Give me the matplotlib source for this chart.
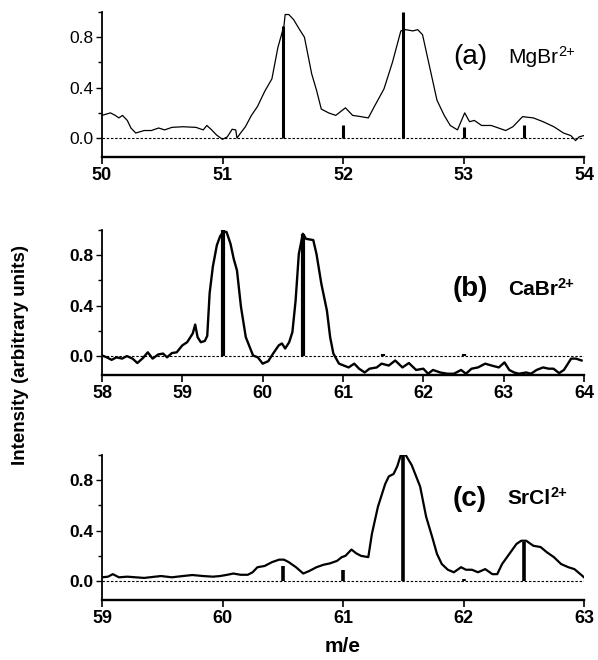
import matplotlib
matplotlib.use("Agg")
import matplotlib.pyplot as plt
import matplotlib.transforms as mtransforms
from matplotlib.ticker import MultipleLocator

plt.rcParams['font.family'] = ['Liberation Sans', 'DejaVu Sans']

# ---------------- data ----------------
# (a) MgBr2+
a_x = [50.00, 50.07, 50.11, 50.14, 50.17, 50.21, 50.24, 50.28, 50.35, 50.41, 50.47, 50.52,
       50.58, 50.67, 50.78, 50.84, 50.87, 50.91, 50.95, 51.00, 51.04, 51.08, 51.11, 51.12,
       51.15, 51.19, 51.24, 51.29, 51.35, 51.41, 51.46, 51.51, 51.52, 51.55, 51.59, 51.64,
       51.68, 51.74, 51.78, 51.82, 51.88, 51.94, 51.98, 52.02, 52.08, 52.15, 52.21, 52.26,
       52.34, 52.41, 52.48, 52.52, 52.58, 52.62, 52.66, 52.72, 52.78, 52.84, 52.89, 52.95,
       53.01, 53.05, 53.09, 53.15, 53.23, 53.29, 53.35, 53.41, 53.49, 53.58, 53.66, 53.75,
       53.83, 53.89, 53.93, 53.96, 54.00]
a_y = [0.18, 0.20, 0.18, 0.16, 0.18, 0.14, 0.08, 0.04, 0.06, 0.06, 0.08, 0.065,
       0.085, 0.09, 0.085, 0.065, 0.10, 0.065, 0.025, -0.01, 0.01, 0.07, 0.065, 0.0,
       0.04, 0.09, 0.18, 0.25, 0.37, 0.47, 0.72, 0.89, 0.98, 0.98, 0.94, 0.86,
       0.80, 0.51, 0.38, 0.23, 0.20, 0.18, 0.21, 0.24, 0.18, 0.17, 0.16, 0.25,
       0.39, 0.60, 0.85, 0.86, 0.85, 0.86, 0.82, 0.56, 0.30, 0.18, 0.10, 0.065,
       0.20, 0.13, 0.14, 0.10, 0.10, 0.08, 0.06, 0.09, 0.17, 0.16, 0.13, 0.09,
       0.04, 0.02, -0.02, 0.01, 0.02]
a_stick_x = [51.5, 52.0, 52.5, 53.0, 53.5]
a_stick_y = [0.89, 0.10, 1.00, 0.09, 0.10]

# (b) CaBr2+
b_x = [58.00, 58.06, 58.12, 58.18, 58.25, 58.31, 58.38, 58.44, 58.51, 58.57, 58.63, 58.70,
       58.76, 58.81, 58.87, 58.93, 59.00, 59.06, 59.13, 59.16, 59.19, 59.23, 59.28, 59.31,
       59.34, 59.38, 59.43, 59.47, 59.51, 59.55, 59.60, 59.64, 59.68, 59.73, 59.79, 59.88,
       59.94, 60.00, 60.07, 60.13, 60.20, 60.24, 60.28, 60.33, 60.37, 60.41, 60.45, 60.50,
       60.54, 60.63, 60.67, 60.73, 60.80, 60.84, 60.88, 60.95, 61.01, 61.07, 61.14, 61.20,
       61.27, 61.33, 61.42, 61.48, 61.57, 61.65, 61.74, 61.82, 61.91, 62.00, 62.06, 62.12,
       62.21, 62.30, 62.38, 62.47, 62.53, 62.60, 62.68, 62.77, 62.85, 62.94, 63.01, 63.07,
       63.13, 63.19, 63.28, 63.34, 63.41, 63.49, 63.56, 63.62, 63.69, 63.75, 63.84, 63.90,
       63.97]
b_y = [0.005, -0.01, -0.03, -0.01, -0.02, 0.0, -0.02, -0.055, -0.015, 0.03, -0.02, 0.013,
       0.02, -0.01, 0.024, 0.03, 0.085, 0.11, 0.18, 0.25, 0.15, 0.11, 0.12, 0.16,
       0.50, 0.71, 0.88, 0.95, 0.985, 0.985, 0.89, 0.77, 0.68, 0.39, 0.15, 0.005,
       -0.01, -0.06, -0.04, 0.02, 0.085, 0.10, 0.06, 0.11, 0.19, 0.44, 0.81, 0.97,
       0.93, 0.92, 0.81, 0.575, 0.36, 0.15, 0.02, -0.06, -0.075, -0.09, -0.06, -0.10,
       -0.13, -0.10, -0.09, -0.06, -0.075, -0.035, -0.09, -0.055, -0.11, -0.10, -0.14, -0.11,
       -0.13, -0.14, -0.14, -0.11, -0.14, -0.10, -0.09, -0.06, -0.075, -0.09, -0.05, -0.11,
       -0.13, -0.14, -0.13, -0.14, -0.11, -0.09, -0.10, -0.10, -0.135, -0.11, -0.02, -0.02,
       -0.035]
b_stick_x = [59.5, 60.5, 61.5, 62.5]
b_stick_y = [1.00, 0.97, 0.02, 0.02]

# (c) SrCl2+
c_x = [59.00, 59.05, 59.09, 59.14, 59.21, 59.28, 59.35, 59.44, 59.49, 59.58, 59.67, 59.75,
       59.84, 59.92, 59.98, 60.04, 60.09, 60.15, 60.21, 60.25, 60.29, 60.35, 60.41, 60.47,
       60.51, 60.55, 60.61, 60.67, 60.72, 60.78, 60.84, 60.89, 60.95, 60.99, 61.02, 61.07,
       61.11, 61.15, 61.21, 61.24, 61.29, 61.35, 61.38, 61.42, 61.45, 61.48, 61.52, 61.57,
       61.64, 61.69, 61.74, 61.78, 61.82, 61.87, 61.92, 61.98, 62.02, 62.07, 62.12, 62.18,
       62.24, 62.28, 62.32, 62.38, 62.44, 62.48, 62.52, 62.58, 62.64, 62.69, 62.75, 62.81,
       62.87, 62.92, 62.97, 63.00]
c_y = [0.03, 0.035, 0.055, 0.03, 0.035, 0.03, 0.025, 0.035, 0.04, 0.03, 0.04, 0.048,
       0.04, 0.035, 0.04, 0.05, 0.06, 0.05, 0.05, 0.07, 0.11, 0.12, 0.15, 0.17,
       0.17, 0.15, 0.11, 0.06, 0.08, 0.11, 0.13, 0.14, 0.16, 0.19, 0.20, 0.25,
       0.22, 0.20, 0.19, 0.375, 0.59, 0.77, 0.83, 0.85, 0.91, 1.00, 1.00, 0.92,
       0.75, 0.51, 0.35, 0.215, 0.135, 0.09, 0.07, 0.11, 0.09, 0.09, 0.07, 0.095,
       0.055, 0.055, 0.135, 0.215, 0.295, 0.32, 0.32, 0.28, 0.27, 0.23, 0.19, 0.135,
       0.11, 0.095, 0.055, 0.03]
c_stick_x = [60.5, 61.0, 61.5, 62.0, 62.5]
c_stick_y = [0.12, 0.09, 1.00, 0.02, 0.31]

panels = [
    dict(x=a_x, y=a_y, sx=a_stick_x, sy=a_stick_y, xlim=(50, 54), xticks=[50, 51, 52, 53, 54],
         tag='(a)', ion='MgBr', charge='2+', bold=False, tag_y=0.64, lw=0.9, slw=2.2),
    dict(x=b_x, y=b_y, sx=b_stick_x, sy=b_stick_y, xlim=(58, 64), xticks=[58, 59, 60, 61, 62, 63, 64],
         tag='(b)', ion='CaBr', charge='2+', bold=True, tag_y=0.53, lw=1.7, slw=3.0),
    dict(x=c_x, y=c_y, sx=c_stick_x, sy=c_stick_y, xlim=(59, 63), xticks=[59, 60, 61, 62, 63],
         tag='(c)', ion='SrCl', charge='2+', bold=True, tag_y=0.655, lw=1.6, slw=2.6),
]
yticks = [0.0, 0.4, 0.8]
ytick_labels = ['0.0', '0.4', '0.8']

fig = plt.figure(figsize=(5.98, 6.6), dpi=100)
W, H = 598, 660
left, right = 102, 584
tops_bottoms = [(12, 157), (230, 375), (455, 600)]

for p, (top, bot) in zip(panels, tops_bottoms):
    ax = fig.add_axes([left / W, (H - bot) / H, (right - left) / W, (bot - top) / H])
    ax.plot(p['x'], p['y'], color='black', lw=p['lw'], zorder=3)
    ax.vlines(p['sx'], 0, p['sy'], color='black', lw=p['slw'], zorder=4)
    ax.axhline(0, color='black', lw=0.8, ls=(0, (2.2, 1.6)), zorder=2)
    ax.set_xlim(*p['xlim'])
    ax.set_ylim(-0.15, 1.0)
    ax.spines['top'].set_visible(False)
    ax.spines['right'].set_visible(False)
    ax.spines['left'].set_linewidth(1.3)
    ax.spines['bottom'].set_linewidth(1.7)
    ax.set_yticks(yticks)
    wy = 'bold' if p['bold'] else 'normal'
    ax.set_yticklabels(ytick_labels, fontsize=12.5, fontweight=wy)
    ax.yaxis.set_minor_locator(MultipleLocator(0.2))
    ax.set_xticks(p['xticks'])
    ax.set_xticklabels([str(t) for t in p['xticks']], fontsize=13, fontweight='bold')
    ax.tick_params(axis='y', which='major', direction='out', length=4, width=1.0, pad=2)
    ax.tick_params(axis='y', which='minor', direction='out', length=3, width=1.0)
    ax.tick_params(axis='x', which='major', direction='out', length=5, width=1.2, pad=2)
    tr = mtransforms.blended_transform_factory(ax.transAxes, ax.transData)
    ax.text(0.728, p['tag_y'], p['tag'], transform=tr,
            fontsize=20, fontweight=wy, va='center', ha='left')
    t = ax.text(0.842, p['tag_y'], p['ion'], transform=tr,
                fontsize=15, fontweight=wy, va='center', ha='left')
    ax.annotate(p['charge'], xy=(1.0, 0.42), xycoords=t, fontsize=10.5, fontweight=wy,
                va='bottom', ha='left')

fig.text(0.035, (H - 355) / H, 'Intensity (arbitrary units)', rotation=90, fontsize=13.5,
         fontweight='bold', va='center', ha='center')
fig.text((left + right) / 2 / W, (H - 647) / H, 'm/e', fontsize=15, fontweight='bold',
         va='center', ha='center')

fig.savefig('out.png', dpi=100)
